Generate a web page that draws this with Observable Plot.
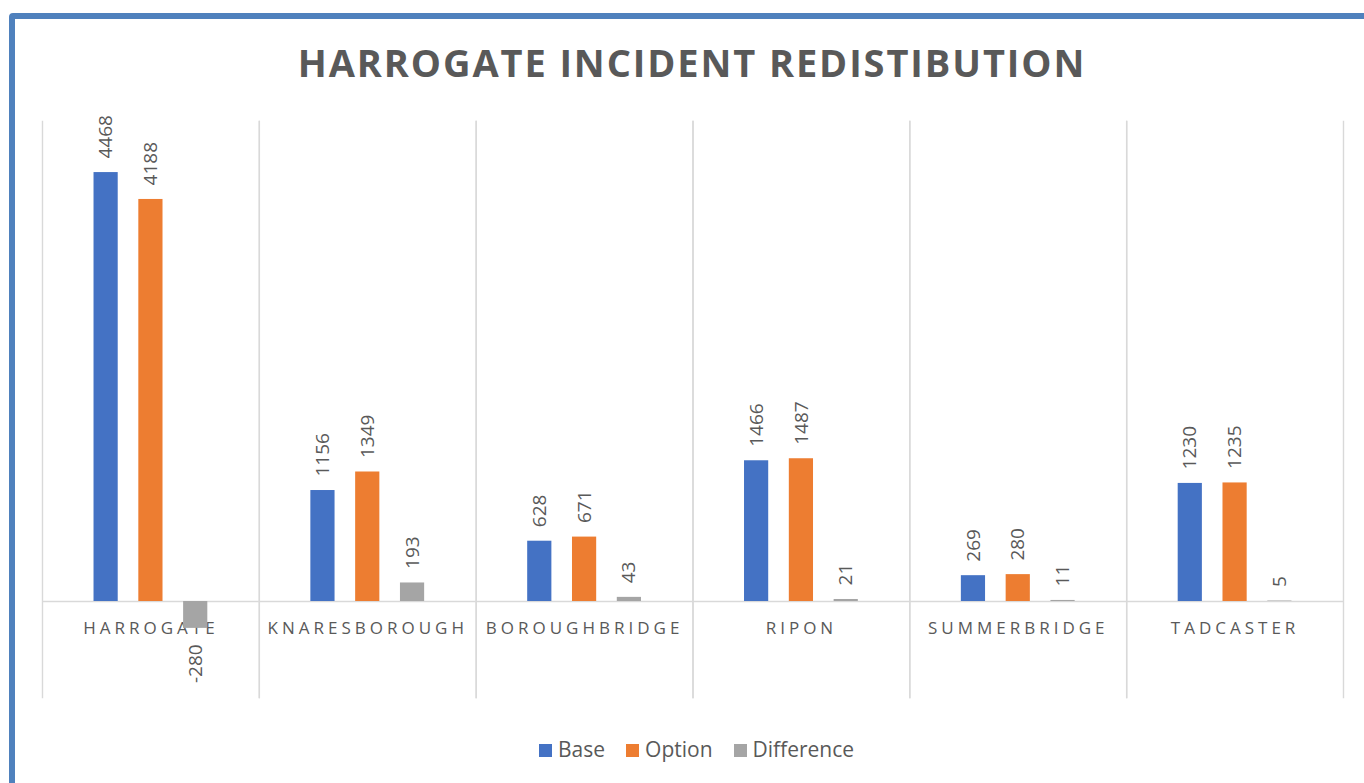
<!DOCTYPE html>
<html>
<head>
<meta charset="utf-8">
<script src="https://cdn.jsdelivr.net/npm/d3@7"></script>
<script src="https://cdn.jsdelivr.net/npm/@observablehq/plot@0.6"></script>
<style>
  html, body { margin: 0; padding: 0; background: #fff; overflow: hidden; width: 1364px; height: 783px; }
  body { position: relative; font-family: "Open Sans", sans-serif; }
  #border { position: absolute; left: 9px; top: 13px; width: 1420px; height: 820px; border: 6px solid #4f81bd; border-radius: 4px; box-sizing: border-box; }
  #title { position: absolute; left: 0; width: 1384px; top: 43px; text-align: center; font-size: 38px; line-height: 38px; font-weight: 700; letter-spacing: 1.9px; color: #595959; white-space: nowrap; }
  #chart { position: absolute; left: 0; top: 0; }
  #chart g[aria-description="category-labels"] text { letter-spacing: 4px; }
  #legend { position: absolute; left: 539px; top: 735px; display: flex; align-items: center; font-size: 21px; line-height: 28px; color: #595959; white-space: nowrap; }
  #legend .item { display: flex; align-items: center; margin-right: 21px; }
  #legend .sw { width: 13px; height: 13px; margin-right: 6px; margin-top: 2px; }
</style>
</head>
<body>
<div id="border"></div>
<div id="title">HARROGATE INCIDENT REDISTIBUTION</div>
<div id="chart"></div>
<div id="legend"></div>
<script>
const categories = ["HARROGATE", "KNARESBOROUGH", "BOROUGHBRIDGE", "RIPON", "SUMMERBRIDGE", "TADCASTER"];
const seriesNames = ["Base", "Option", "Difference"];
const seriesColors = ["#4472C4", "#ED7D31", "#A5A5A5"];
const baseValues = [4468, 1156, 628, 1466, 269, 1230];
const optionValues = [4188, 1349, 671, 1487, 280, 1235];
const differenceValues = [-280, 193, 43, 21, 11, 5];

const seriesValues = [baseValues, optionValues, differenceValues];
const data = [];
categories.forEach((cat, i) => {
  seriesNames.forEach((s, j) => {
    data.push({cat, series: s, value: seriesValues[j][i]});
  });
});
const catData = categories.map(cat => ({cat}));

const textColor = "#595959";
const gridColor = "#d9d9d9";

const chart = Plot.plot({
  width: 1364,
  height: 710,
  marginTop: 121,
  marginBottom: 13,
  marginLeft: 42,
  marginRight: 21,
  style: {fontFamily: "Open Sans, sans-serif", background: "transparent", overflow: "visible"},
  fx: {domain: categories, padding: 0, round: false, axis: null},
  x: {domain: seriesNames, paddingInner: 0.46, paddingOuter: 1.15, round: false, axis: null},
  y: {domain: [-1000, 5000], axis: null},
  color: {domain: seriesNames, range: seriesColors},
  marks: [
    Plot.frame({anchor: "left", stroke: gridColor, strokeWidth: 1.4}),
    Plot.frame({anchor: "right", stroke: gridColor, strokeWidth: 1.4}),
    Plot.ruleY([0], {stroke: gridColor, strokeWidth: 1.5}),
    Plot.text(catData, {fx: "cat", y: () => 0, text: "cat", dy: 27, fill: textColor, fontSize: 17, lineAnchor: "middle", ariaDescription: "category-labels"}),
    Plot.barY(data, {fx: "cat", x: "series", y: "value", fill: "series"}),
    Plot.text(data.filter(d => d.value >= 0), {fx: "cat", x: "series", y: "value", text: d => String(d.value), rotate: -90, textAnchor: "start", lineAnchor: "middle", dy: -14, fill: textColor, fontSize: 19}),
    Plot.text(data.filter(d => d.value < 0), {fx: "cat", x: "series", y: "value", text: d => String(d.value), rotate: -90, textAnchor: "end", lineAnchor: "middle", dy: 16, fill: textColor, fontSize: 19})
  ]
});
document.getElementById("chart").appendChild(chart);

const legend = document.getElementById("legend");
seriesNames.forEach((s, j) => {
  const item = document.createElement("div");
  item.className = "item";
  const sw = document.createElement("div");
  sw.className = "sw";
  sw.style.background = seriesColors[j];
  const label = document.createElement("span");
  label.textContent = s;
  item.appendChild(sw);
  item.appendChild(label);
  legend.appendChild(item);
});
</script>
</body>
</html>
